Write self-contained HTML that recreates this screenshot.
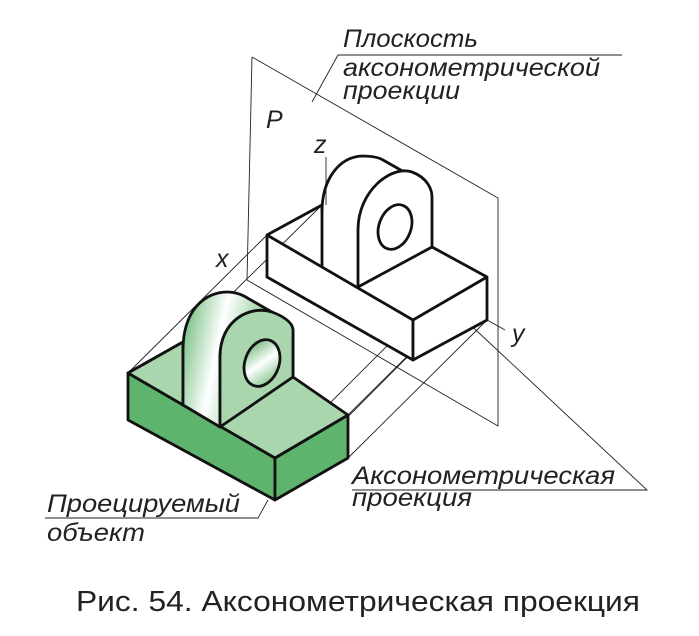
<!DOCTYPE html>
<html><head><meta charset="utf-8"><style>
html,body{margin:0;padding:0;background:#fff;}
svg{display:block}
.l{font-family:"Liberation Sans",sans-serif;font-style:italic;font-size:25px;fill:#222;}
</style></head><body>
<svg width="699" height="636" viewBox="0 0 699 636" xmlns="http://www.w3.org/2000/svg">
<defs>
<linearGradient id="cyl" x1="0" y1="0" x2="1" y2="0.3">
<stop offset="0" stop-color="#5fb46d"/><stop offset="0.45" stop-color="#ffffff"/><stop offset="1" stop-color="#6bbb78"/>
</linearGradient>
<linearGradient id="hole" x1="0" y1="0" x2="1" y2="1">
<stop offset="0" stop-color="#4fa85f"/><stop offset="0.5" stop-color="#ffffff"/><stop offset="1" stop-color="#5fb46d"/>
</linearGradient>
</defs>
<g stroke="#222" stroke-width="0.9" fill="none">
<polyline points="252,57 247,280 498,426 498,198 252,57"/>
<line x1="267" y1="235" x2="128" y2="373"/>
<line x1="322" y1="205" x2="183" y2="342"/>
<line x1="487" y1="277" x2="348" y2="415"/>
<line x1="487" y1="320" x2="348" y2="458"/>
<line x1="413" y1="320" x2="275" y2="458"/>
<line x1="487" y1="277" x2="275" y2="490"/>
<line x1="326" y1="157" x2="326" y2="205"/>
<line x1="487" y1="320" x2="505" y2="330"/>
<polyline points="312,102 338,55 622,55"/>
<polyline points="463,318 647,490 352,490"/>
<polyline points="45,518 258,518 268,500"/>
</g>
<g stroke="#111" stroke-width="2.8" stroke-linejoin="round">
<polygon points="128,373 128,420 275,500 275,458" fill="#5fb46d"/>
<polygon points="275,458 348,415 348,458 275,500" fill="#5fb46d"/>
<polygon points="128,373 183,342 293,330 293,377 348,415 275,458" fill="#a9d6ad"/>
<polygon points="128,373 183,342 183,405" fill="#a9d6ad"/>
<path d="M183,405 L183,350 C183,310 205,292 227,292 C235,292 240,294 244,296 L277,315 L272,312 C250,305 220,320 220,357 L220,427 Z" fill="url(#cyl)"/>
<path d="M220,427 L220,357 C220,320 250,305 272,312 C288,318 293,325 293,330 L293,377 Z" fill="#a9d6ad"/>
<ellipse cx="262" cy="363" rx="17" ry="24" transform="rotate(20 262 363)" fill="url(#hole)"/>
</g>
<g stroke="#111" stroke-width="2.8" stroke-linejoin="round" fill="#fff">
<polygon points="267,235 267,277 413,360 413,320"/>
<polygon points="413,320 487,277 487,320 413,360"/>
<polyline points="267,235 322,205 322,267" fill="none"/>
<path d="M322,205 L322,212 C322,178 340,157 362,156 C372,156 378,157 383,160 L413,177" fill="none"/>
<path d="M358,287 L358,230 C358,190 392,165 412,172 C428,178 432,190 432,197 L432,247 Z"/>
<polyline points="432,247 487,277" fill="none"/>
<ellipse cx="395" cy="227" rx="16" ry="23" transform="rotate(20 395 227)"/>
</g>
<text class="l" x="343" y="47" textLength="135" lengthAdjust="spacingAndGlyphs">Плоскость</text>
<text class="l" x="343" y="76" textLength="257" lengthAdjust="spacingAndGlyphs">аксонометрической</text>
<text class="l" x="343" y="99" textLength="117" lengthAdjust="spacingAndGlyphs">проекции</text>
<text class="l" x="266" y="128" font-size="26">P</text>
<text class="l" x="314" y="153">z</text>
<text class="l" x="216" y="267">x</text>
<text class="l" x="512" y="342">y</text>
<text class="l" x="352" y="484" textLength="263" lengthAdjust="spacingAndGlyphs">Аксонометрическая</text>
<text class="l" x="352" y="506" textLength="120" lengthAdjust="spacingAndGlyphs">проекция</text>
<text class="l" x="47" y="512" textLength="193" lengthAdjust="spacingAndGlyphs">Проецируемый</text>
<text class="l" x="47" y="541" textLength="98" lengthAdjust="spacingAndGlyphs">объект</text>
<text x="76" y="611" font-family="Liberation Sans,sans-serif" font-size="29" fill="#222" textLength="564" lengthAdjust="spacingAndGlyphs">Рис. 54. Аксонометрическая проекция</text>
</svg>
</body></html>
